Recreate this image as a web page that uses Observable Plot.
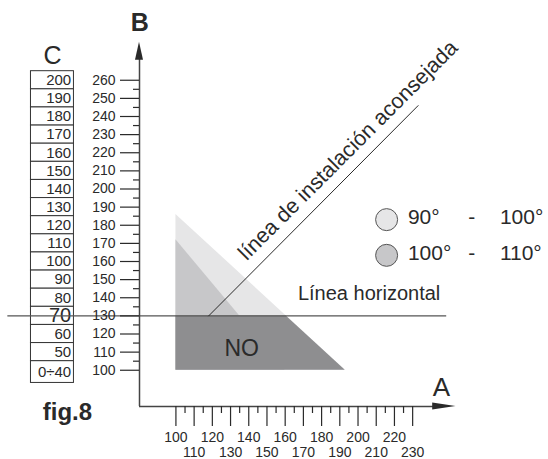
<!DOCTYPE html>
<html><head><meta charset="utf-8">
<script src="https://cdn.jsdelivr.net/npm/d3@7"></script>
<script src="https://cdn.jsdelivr.net/npm/@observablehq/plot@0.6"></script>
<style>body{margin:0;background:#fff}</style>
</head><body><div id="chart"></div>
<script>
// ---- data ----
const bTicks = [100,110,120,130,140,150,160,170,180,190,200,210,220,230,240,250,260];
const bMinor = [105,115,125,135,145,155,165,175,185,195,205,215,225,235,245,255];
const aEven = [100,120,140,160,180,200,220];
const aOdd = [110,130,150,170,190,210,230];
const aMinor = [105,115,125,135,145,155,165,175,185,195,205,215,225];
const cLabels = ["200","190","180","170","160","150","140","130","120","110","100","90","80","70","60","50","0÷40"];
const lightTri = [{a:100,b:186},{a:193,b:100}];   // 90° - 100°
const mediumTri = [{a:100,b:172},{a:160,b:100}];  // 100° - 110°
const horizontalB = 130;
const installLine = [{a:118,b:130},{a:233,b:246}];
const legendItems = [{from:"90°",to:"100°",key:"light"},{from:"100°",to:"110°",key:"medium"}];

// ---- styling ----
const colors = {light:"#e6e6e7", medium:"#c7c7c9", dark:"#8e8e90"};
const ink = "#2a2a2a";
const font = "'Liberation Sans', Arial, sans-serif";

// derived dark "NO" zone: light triangle below the horizontal line
const cut = lightTri[0].a + (lightTri[1].a - lightTri[0].a) * (lightTri[0].b - horizontalB) / (lightTri[0].b - lightTri[1].b);
const darkZone = [{a:lightTri[0].a,b:horizontalB},{a:cut,b:horizontalB},{a:lightTri[1].a,b:lightTri[1].b}];

// C column rows aligned to B ticks
const cRows = cLabels.map((t,i) => i < 16
  ? {t, y1: 255 - 10*i, y2: 265 - 10*i, yc: 260 - 10*i}
  : {t, y1: 93, y2: 105, yc: 99});

const O = 80; // axis origin
const chart = Plot.plot({
  width: 548, height: 459,
  marginLeft: 139, marginRight: 0, marginTop: 0, marginBottom: 53,
  x: {domain: [O, O + 409/1.821]},
  y: {domain: [O, O + 406/1.8125]},
  style: {fontFamily: font, fontSize: "14px", color: ink, background: "#fff", overflow: "visible"},
  marks: [
    // zones
    Plot.areaY(lightTri, {x:"a", y1:100, y2:"b", fill: colors.light}),
    Plot.areaY(mediumTri, {x:"a", y1:100, y2:"b", fill: colors.medium}),
    Plot.areaY(darkZone, {x:"a", y1:100, y2:"b", fill: colors.dark}),
    // C table
    Plot.rect(cRows, {x1: 20.4, x2: 44, y1:"y1", y2:"y2", fill:"#fff", stroke:"#333", strokeWidth:1}),
    Plot.text(cRows.filter(d => d.t !== "70"), {x: 42.5, y:"yc", text:"t", textAnchor:"end", fontSize:15, fill: ink}),
    Plot.text(cRows.filter(d => d.t === "70"), {x: 42.5, y:"yc", text:"t", textAnchor:"end", fontSize:20, fill: ink}),
    // horizontal line & installation line
    Plot.ruleY([horizontalB], {x1: 7.7, x2: 248.7, stroke:"#555", strokeWidth:1.4}),
    Plot.line(installLine, {x:"a", y:"b", stroke: ink, strokeWidth:1}),
    // axes lines & arrows
    Plot.ruleX([O], {y1: O, y2: 272, stroke:"#444", strokeWidth:1.5}),
    Plot.ruleY([O], {x1: O, x2: 242, stroke:"#444", strokeWidth:1.5}),
    Plot.areaX([{b:271,l:77.8,r:82.2},{b:281,l:80,r:80}], {y:"b", x1:"l", x2:"r", fill: ink}),
    Plot.areaY([{a:241,lo:78.1,hi:81.9},{a:253.8,lo:80,hi:80}], {x:"a", y1:"lo", y2:"hi", fill: ink}),
    // ticks
    Plot.axisY(bTicks, {anchor:"left", tickSize:19, tickFormat:() => "", label:null, strokeWidth:1.2}),
    Plot.axisY(bMinor, {anchor:"left", tickSize:6, tickFormat:() => "", label:null, strokeWidth:1.2}),
    Plot.axisX(aEven.concat(aOdd), {anchor:"bottom", tickSize:20, tickFormat:() => "", label:null, strokeWidth:1.2}),
    Plot.axisX(aMinor, {anchor:"bottom", tickSize:7, tickFormat:() => "", label:null, strokeWidth:1.2}),
    // tick labels
    Plot.text(bTicks, {x: O, y: d => d, dx: -24, textAnchor:"end", fontSize: 14, fill: ink}),
    Plot.text(aEven, {x: d => d, y: O, dy: 31, fontSize: 14, fill: ink}),
    Plot.text(aOdd, {x: d => d, y: O, dy: 46, fontSize: 14, fill: ink}),
    // labels
    Plot.text(["A"], {x: 245.8, y: 90.3, fontSize: 26, fill: ink}),
    Plot.text(["B"], {x: 80.2, y: 291.7, fontSize: 25, fontWeight: "bold", fill: ink}),
    Plot.text(["C"], {x: 32.2, y: 273.2, fontSize: 25, fill: ink}),
    Plot.text(["fig.8"], {x: 40.4, y: 76.8, fontSize: 24, fontWeight: "bold", fill: ink}),
    Plot.text(["NO"], {x: 136.1, y: 112.1, fontSize: 23, fill: ink}),
    Plot.text(["Línea horizontal"], {x: 167, y: 142.2, fontSize: 20, textAnchor:"start", fill: ink}),
    Plot.text(["línea de instalación aconsejada"], {x: 194.5, y: 221.4, rotate: -45, fontSize: 21.5, fill: ink}),
    // legend
    ...legendItems.map((d, i) => Plot.dot([d], {x: 215.7, y: 183.1 - i*19.7, r: 11, fill: colors[d.key], stroke:"#555", strokeWidth:1})),
    Plot.text(legendItems, {x: 227.4, y: (d, i) => 184.3 - i*19.7, text:"from", textAnchor:"start", fontSize:21, fill: ink}),
    Plot.text(legendItems, {x: 262.5, y: (d, i) => 184.3 - i*19.7, text: () => "-", fontSize:21, fill: ink}),
    Plot.text(legendItems, {x: 277.9, y: (d, i) => 184.3 - i*19.7, text:"to", textAnchor:"start", fontSize:21, fill: ink})
  ]
});
document.getElementById("chart").appendChild(chart);
</script>
</body></html>
